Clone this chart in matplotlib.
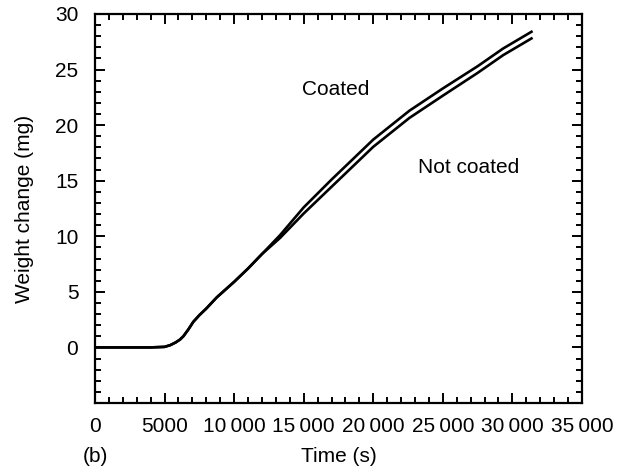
import matplotlib.pyplot as plt
from matplotlib.ticker import MultipleLocator, FixedLocator

plt.rcParams['font.family'] = ['Liberation Sans', 'DejaVu Sans']

# Values
time_s = [0, 2000, 4000, 5000, 5400, 5800, 6100, 6350, 6700, 7065, 7500,
          8000, 8750, 10000, 11000, 12000, 13300, 15000, 17000, 20000,
          22600, 25000, 27500, 29340, 31370]
coated = [0.0, 0.0, 0.0, 0.05, 0.2, 0.45, 0.7, 1.0, 1.6, 2.3, 2.9,
          3.5, 4.5, 5.9, 7.1, 8.4, 10.1, 12.6, 15.1, 18.7,
          21.3, 23.3, 25.3, 26.9, 28.4]
not_coated = [0.0, 0.0, 0.0, 0.05, 0.2, 0.45, 0.7, 1.0, 1.6, 2.3, 2.9,
              3.5, 4.5, 5.9, 7.1, 8.4, 9.85, 12.05, 14.45, 18.05,
              20.65, 22.65, 24.7, 26.3, 27.8]

x_ticks = [0, 5000, 10000, 15000, 20000, 25000, 30000, 35000]
x_tick_labels = ['0', '5000', '10\u2009000', '15\u2009000', '20\u2009000',
                 '25\u2009000', '30\u2009000', '35\u2009000']
y_ticks = [0, 5, 10, 15, 20, 25, 30]

fig = plt.figure(figsize=(6.35, 4.71), dpi=100)
ax = fig.add_axes([0.1496, 0.1444, 0.7669, 0.8259])

ax.plot(time_s, coated, color='black', lw=1.9)
ax.plot(time_s, not_coated, color='black', lw=1.9)

ax.set_xlim(0, 35000)
ax.set_ylim(-5, 30)
ax.xaxis.set_major_locator(FixedLocator(x_ticks))
ax.set_xticklabels(x_tick_labels)
ax.xaxis.set_minor_locator(MultipleLocator(1000))
ax.yaxis.set_major_locator(FixedLocator(y_ticks))
ax.yaxis.set_minor_locator(MultipleLocator(1))

for s in ax.spines.values():
    s.set_linewidth(1.6)

ax.tick_params(which='both', direction='in', top=True, right=True, width=1.4)
ax.tick_params(which='major', length=7.5, labelsize=15)
ax.tick_params(which='minor', length=4)
ax.tick_params(axis='x', which='major', pad=10)
ax.tick_params(axis='y', which='major', pad=12)

ax.text(17320, 23.2, 'Coated', fontsize=15, ha='center', va='center')
ax.text(26879, 16.2, 'Not coated', fontsize=15, ha='center', va='center')

# axis titles placed by hand, like the reference
fig.text(0.039, 0.557, 'Weight change (mg)', fontsize=15, ha='center',
         va='center', rotation=90)
fig.text(0.534, 0.031, 'Time (s)', fontsize=15, ha='center', va='center')
fig.text(0.151, 0.031, '(b)', fontsize=15, ha='center', va='center')

fig.savefig('out.png', dpi=100)
